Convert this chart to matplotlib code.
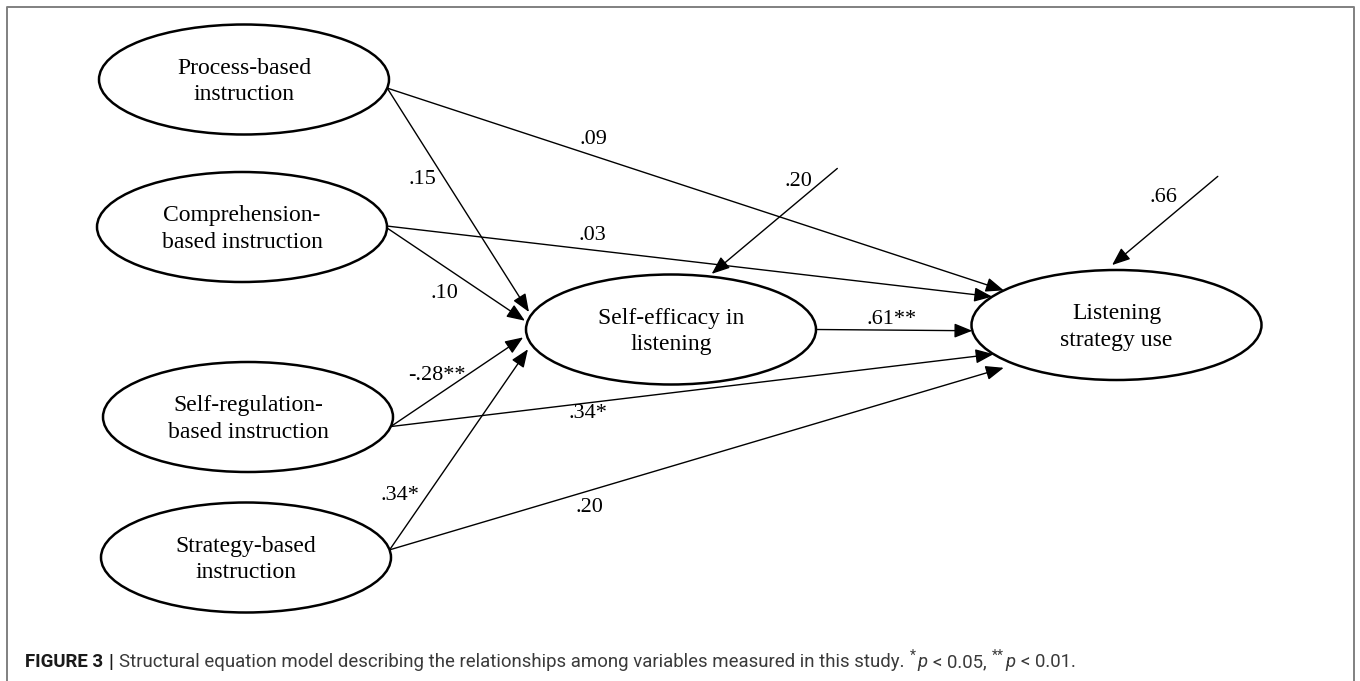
import numpy as np
import matplotlib
matplotlib.use("Agg")
import matplotlib.pyplot as plt
from matplotlib.patches import Ellipse

# variables in the model
nodes = ["Process-based\ninstruction", "Comprehension-\nbased instruction",
         "Self-regulation-\nbased instruction", "Strategy-based\ninstruction",
         "Self-efficacy in\nlistening", "Listening\nstrategy use"]

# paths (source index -> target index) and standardized coefficients
path_from = [0, 0, 1, 1, 2, 2, 3, 3, 4]
path_to = [4, 5, 4, 5, 4, 5, 4, 5, 5]
path_labels = [".15", ".09", ".10", ".03", "-.28**", ".34*", ".34*", ".20", ".61**"]

# residual terms on the endogenous variables
resid_nodes = [4, 5]
resid_labels = [".20", ".66"]

caption_head = "FIGURE 3"
caption_body = "Structural equation model describing the relationships among variables measured in this study."

# ---- layout (pixel space of the figure) ----
node_xy = [(244, 79.5), (242, 227), (248, 417), (246, 557.5), (671, 329.5), (1116.5, 325)]
ell_w, ell_h = 290, 110

src_ang = [9, 9, 1, -1, 10, 10, -8, -8, 0]
tgt_port = [(198, 1.03), (219, 1.0), (189, 1.02), (211, 1.0), (172, 1.03),
            (148, 1.0), (160, 1.05), (135, 1.1), (174, 1.0)]
label_xy = [(422, 180), (593, 139), (444, 293), (592, 236), (437, 375),
            (588, 413), (400, 495), (589, 507), (892, 320)]

resid_port = [(-74.5, 1.05), (268.4, 1.09)]
resid_len = [164, 138]
resid_label_xy = [(798, 182), (1163, 197)]


def port(i, ang, r=1.0):
    cx, cy = node_xy[i]
    t = np.radians(ang)
    return cx + r * ell_w / 2 * np.cos(t), cy + r * ell_h / 2 * np.sin(t)


fig = plt.figure(figsize=(13.6, 6.81), dpi=100)
ax = fig.add_axes([0, 0, 1, 1])
ax.set_xlim(0, 1360)
ax.set_ylim(681, 0)
ax.axis("off")

serif = "Liberation Serif"
arrow = dict(arrowstyle="-|>,head_length=0.55,head_width=0.22", color="black",
             lw=1.0, mutation_scale=20, shrinkA=0, shrinkB=0)

for i, name in enumerate(nodes):
    ax.add_patch(Ellipse(node_xy[i], ell_w, ell_h, facecolor="white",
                         edgecolor="black", lw=1.8, zorder=2))
    ax.text(node_xy[i][0], node_xy[i][1] + 2, name, ha="center", va="center",
            fontsize=17, family=serif, linespacing=1.35, zorder=4)

for k in range(len(path_from)):
    start = port(path_from[k], src_ang[k])
    tip = port(path_to[k], *tgt_port[k])
    ax.annotate("", xy=tip, xytext=start, arrowprops=arrow, zorder=3)
    ax.text(*label_xy[k], path_labels[k], ha="center", va="center",
            fontsize=16, family=serif, zorder=4)

for k, n in enumerate(resid_nodes):
    tip = port(n, *resid_port[k])
    a = np.radians(40)
    start = (tip[0] + resid_len[k] * np.cos(a), tip[1] - resid_len[k] * np.sin(a))
    ax.annotate("", xy=tip, xytext=start, arrowprops=arrow, zorder=3)
    ax.text(*resid_label_xy[k], resid_labels[k], ha="center", va="center",
            fontsize=16, family=serif, zorder=4)

# frame around figure
ax.plot([7, 7, 1354, 1354], [700, 7, 7, 700], color="#808080", lw=1.4,
        clip_on=False)

# caption, built piece by piece
fig.canvas.draw()
rend = fig.canvas.get_renderer()
sans = "Roboto"
base_y = 667
cap_size = 13.4


def width(s, **kw):
    t = ax.text(0, base_y, s, fontsize=kw.pop("size", cap_size), family=sans, **kw)
    w = t.get_window_extent(rend).width
    t.remove()
    return w


gap = width("x x") - width("xx")
pieces = [
    (caption_head, dict(fontweight="bold"), 0, True),
    ("|", dict(fontweight="bold"), 0, True),
    (caption_body, dict(), 0, True),
    ("*", dict(size=10), -7, False),
    ("p", dict(fontstyle="italic"), 0, True),
    ("< 0.05,", dict(), 0, True),
    ("**", dict(size=10), -7, False),
    ("p", dict(fontstyle="italic"), 0, True),
    ("< 0.01.", dict(), 0, False),
]
x = 25
for s, kw, dy, sp in pieces:
    kw = dict(kw)
    size = kw.pop("size", cap_size)
    color = "#1a1a1a" if kw.get("fontweight") == "bold" else "#3a3a3a"
    t = ax.text(x, base_y + dy, s, fontsize=size, family=sans, color=color,
                va="baseline", ha="left", **kw)
    x += t.get_window_extent(rend).width + 1
    if sp:
        x += gap

fig.savefig("out.png", dpi=100)
